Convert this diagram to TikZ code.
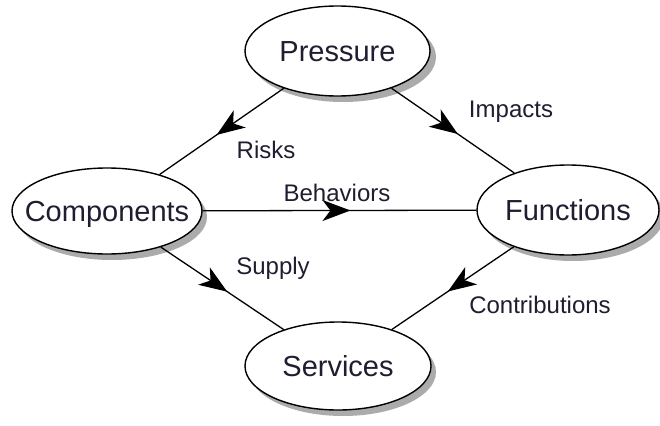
\documentclass[tikz,border=0pt]{standalone}
\usepackage{fontspec}
\setmainfont{Liberation Sans}
\usetikzlibrary{shapes.geometric,arrows.meta,decorations.markings}
\definecolor{txt}{HTML}{1E1E30}
\definecolor{shadc}{HTML}{ABABAB}
\tikzset{
  ell/.style={ellipse, draw=black, line width=1.4pt, fill=white, inner sep=0pt,
    text=txt, font=\fontsize{29}{34}\selectfont, text height=20.8pt, text depth=0pt},
  lab/.style={text=txt, font=\fontsize{24}{28}\selectfont, inner sep=0pt},
  conn/.style={line width=1.3pt, postaction={decorate},
    decoration={markings, mark=at position #1 with {\arrow{Stealth[length=28pt,width=21pt,inset=8pt]}}}},
  conn/.default=0.54
}
\begin{document}
\begin{tikzpicture}[x=1pt,y=-1pt]
\useasboundingbox (0,0) rectangle (660,425);
% shadows
\fill[shadc] (343pt,-57pt) ellipse (93pt and 45pt);
\fill[shadc] (112pt,-217pt) ellipse (95pt and 43pt);
\fill[shadc] (573pt,-216pt) ellipse (91pt and 45pt);
\fill[shadc] (343pt,-372pt) ellipse (93pt and 44pt);
\node[ell, minimum width=185pt, minimum height=90pt] (P) at (337.5,51) {\makebox[0pt]{Pressure}};
\node[ell, minimum width=190pt, minimum height=86pt] (C) at (107,211) {\makebox[0pt]{Components}};
\node[ell, minimum width=182pt, minimum height=90pt] (F) at (568,210) {\makebox[0pt]{Functions}};
\node[ell, minimum width=186pt, minimum height=88pt] (S) at (338,366) {\makebox[0pt]{Services}};
\draw[conn] (P) -- (C);
\draw[conn] (P) -- (F);
\draw[conn] (C) -- (F);
\draw[conn] (C) -- (S);
\draw[conn] (F) -- (S);
\node[lab] (lr) at (266,150) {Risks};
\node[lab] (li) at (511,112) {Impacts};
\node[lab] (lb) at (337,193) {Behaviors};
\node[lab] (ls) at (273,268) {Supply};
\node[lab] (lc) at (540,305) {Contributions};
\end{tikzpicture}
\end{document}
